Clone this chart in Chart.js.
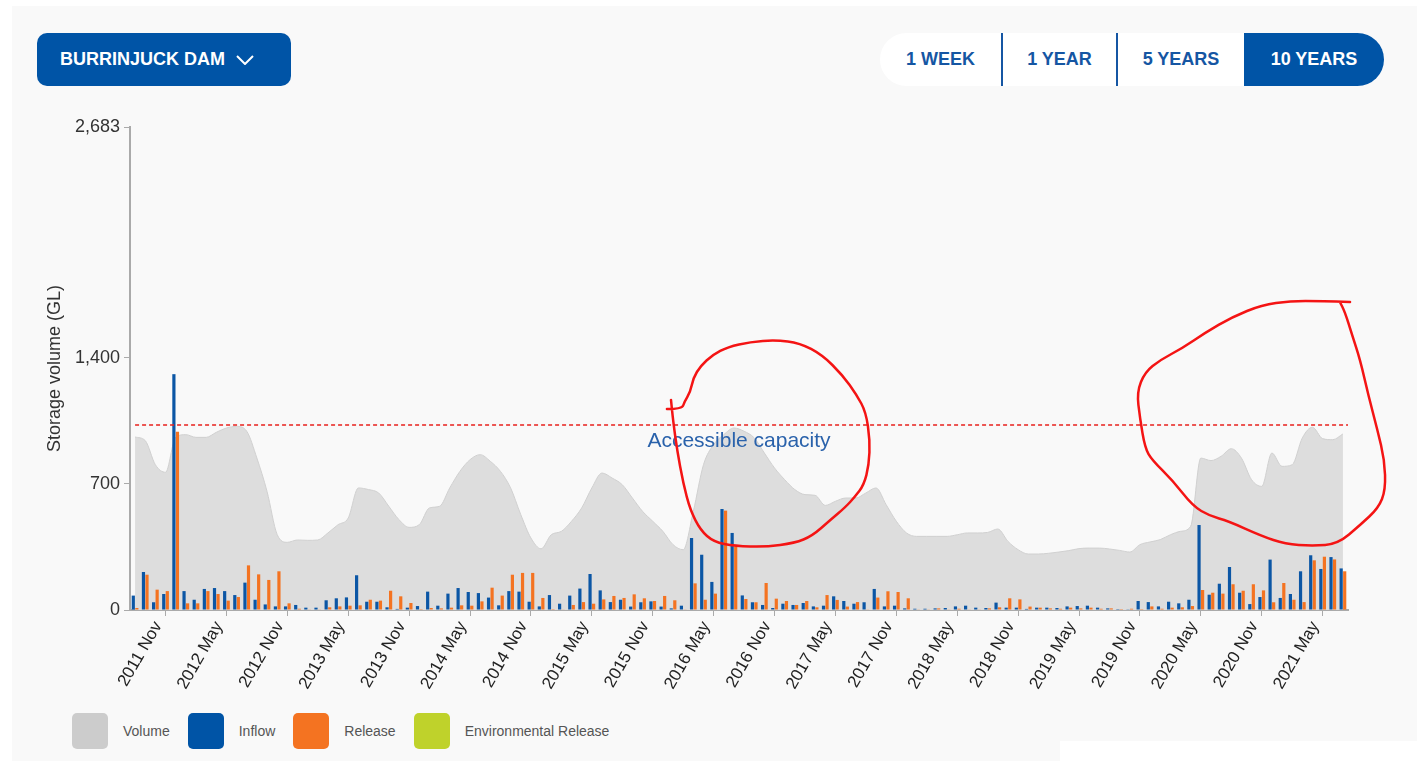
<!DOCTYPE html>
<html>
<head>
<meta charset="utf-8">
<title>Burrinjuck Dam - storage</title>
<script src="https://cdn.jsdelivr.net/npm/chart.js@4.4.1/dist/chart.umd.min.js"></script>
<style>
  html, body { margin: 0; padding: 0; background: #fff; }
  body { width: 1417px; height: 761px; position: relative; overflow: hidden; font-family: "Liberation Sans", Arial, sans-serif; }
  .panel { position: absolute; left: 12px; top: 6px; right: 0; bottom: 0; background: #f9f9f9; }
  .corner { position: absolute; left: 1060px; top: 741px; right: 0; bottom: 0; background: #fff; }
  .dam-btn { position: absolute; left: 37px; top: 33px; width: 254px; height: 53px; border-radius: 10px;
    background: #0054a6; color: #fff; font-weight: bold; font-size: 18px; display: flex; align-items: center;
    padding-left: 23px; box-sizing: border-box; }
  .dam-btn svg { margin-left: 11px; }
  .range { position: absolute; left: 880px; top: 33px; width: 504px; height: 53px; background: #fff;
    border-radius: 27px; overflow: hidden; display: flex; }
  .range div { height: 100%; display: flex; align-items: center; justify-content: center; color: #1556a3;
    font-weight: bold; font-size: 18px; box-sizing: border-box; }
  .range .sep { border-left: 2px solid #1556a3; }
  .range .on { background: #0054a6; color: #fff; }
  #chart { position: absolute; left: 30px; top: 110px; }
  .legend { position: absolute; left: 72px; top: 713px; display: flex; align-items: center; }
  .legend span.box { width: 36px; height: 36px; border-radius: 5px; display: inline-block; }
  .legend span.txt { font-size: 14px; color: #555; margin-left: 15px; margin-right: 18px; }
</style>
</head>
<body>
<div class="panel"></div>
<div class="corner"></div>

<div class="dam-btn">BURRINJUCK DAM
  <svg width="18" height="10" viewBox="0 0 18 10"><polyline points="1,1 9,9 17,1" fill="none" stroke="#fff" stroke-width="2"/></svg>
</div>

<div class="range">
  <div style="width:121px">1 WEEK</div>
  <div class="sep" style="width:115px">1 YEAR</div>
  <div class="sep" style="width:128px">5 YEARS</div>
  <div class="on" style="width:140px">10 YEARS</div>
</div>

<canvas id="chart" width="1380" height="600"></canvas>

<div class="legend">
  <span class="box" style="background:#cccccc"></span><span class="txt">Volume</span>
  <span class="box" style="background:#0054a6"></span><span class="txt">Inflow</span>
  <span class="box" style="background:#f47321"></span><span class="txt">Release</span>
  <span class="box" style="background:#bfd22b"></span><span class="txt">Environmental Release</span>
</div>

<script>
// monthly values, 2011 Nov .. 2021 Oct (GL)
const monthNames = ['Jan', 'Feb', 'Mar', 'Apr', 'May', 'Jun', 'Jul', 'Aug', 'Sep', 'Oct', 'Nov', 'Dec'];
const months = [];
for (let k = 0; k < 120; k++) {
  months.push((2011 + Math.floor((10 + k) / 12)) + ' ' + monthNames[(10 + k) % 12]);
}

const tickLabels = ['2011 Nov', '2012 May', '2012 Nov', '2013 May', '2013 Nov', '2014 May', '2014 Nov',
  '2015 May', '2015 Nov', '2016 May', '2016 Nov', '2017 May', '2017 Nov', '2018 May', '2018 Nov',
  '2019 May', '2019 Nov', '2020 May', '2020 Nov', '2021 May'];
const yTicks = [0, 700, 1400, 2683];
const accessibleCapacity = 1026;

const volume = [
  961, 941, 807, 765, 960, 974, 959, 959, 987, 1011,
  1020, 993, 844, 659, 419, 376, 389, 387, 389, 428,
  474, 511, 678, 669, 650, 576, 502, 459, 474, 567,
  576, 678, 770, 835, 863, 826, 770, 678, 530, 400,
  340, 418, 437, 493, 567, 678, 761, 733, 696, 622,
  548, 493, 437, 363, 335, 548, 807, 919, 974, 1011,
  993, 956, 872, 789, 724, 669, 641, 637, 581, 604,
  622, 622, 650, 678, 585, 493, 428, 409, 409, 409,
  409, 418, 428, 428, 431, 450, 381, 335, 311, 311,
  315, 322, 330, 341, 344, 344, 339, 331, 322, 363,
  378, 391, 418, 437, 465, 844, 830, 854, 896, 844,
  724, 687, 872, 798, 807, 956, 1015, 952, 946, 978
];

const inflow = [
  80, 211, 43, 89, 1310, 105, 57, 117, 122, 105,
  83, 152, 57, 31, 20, 20, 28, 13, 13, 54,
  65, 70, 193, 46, 46, 15, 6, 13, 22, 102,
  24, 91, 122, 100, 94, 69, 26, 105, 102, 46,
  20, 83, 35, 80, 119, 200, 109, 44, 57, 19,
  43, 48, 19, 9, 24, 400, 307, 156, 561, 428,
  81, 43, 28, 11, 35, 28, 39, 20, 24, 76,
  50, 35, 43, 117, 20, 24, 9, 7, 7, 9,
  11, 20, 24, 13, 11, 41, 13, 13, 6, 13,
  13, 11, 20, 22, 24, 13, 9, 5, 4, 50,
  44, 20, 46, 37, 57, 472, 85, 146, 239, 96,
  33, 72, 280, 67, 89, 215, 304, 228, 294, 231
];

const release = [
  11, 196, 113, 105, 990, 37, 37, 105, 89, 52,
  72, 248, 198, 167, 215, 37, 7, 2, 2, 15,
  20, 24, 26, 57, 52, 107, 76, 39, 5, 11,
  9, 13, 26, 24, 48, 124, 80, 196, 206, 206,
  67, 5, 2, 28, 44, 35, 59, 78, 67, 87,
  65, 50, 78, 54, 2, 148, 57, 91, 552, 352,
  61, 43, 150, 63, 50, 28, 50, 15, 83, 56,
  19, 44, 2, 69, 104, 100, 65, 2, 2, 9,
  2, 7, 2, 2, 9, 15, 65, 59, 19, 13,
  9, 7, 13, 9, 13, 7, 9, 5, 7, 5,
  20, 7, 13, 15, 22, 111, 96, 91, 143, 107,
  143, 109, 43, 150, 57, 44, 276, 296, 281, 215
];

const envRelease = [];

// hand drawn red rings on the screenshot, in [month index, GL]
const ringOne = [
  [52.4, 1116], [53.9, 1117], [54.1, 1155], [54.7, 1211], [55.0, 1289], [55.7, 1355], [56.9, 1417],
  [58.4, 1461], [60.6, 1489], [63.1, 1500], [65.5, 1483], [67.7, 1417], [69.7, 1305], [71.1, 1194],
  [72.0, 1100], [72.4, 944], [72.3, 805], [71.8, 694], [70.9, 628], [70.0, 572], [68.5, 500],
  [66.7, 411], [65.0, 372], [62.1, 350], [59.1, 356], [57.0, 378], [55.7, 444], [54.7, 555],
  [54.0, 705], [53.4, 889], [53.0, 1055], [52.8, 1167]
];
const ringTwo = [
  [119.7, 1711], [116.8, 1716], [113.8, 1716], [111.0, 1694], [108.1, 1628], [105.4, 1539],
  [103.2, 1455], [101.0, 1389], [99.5, 1322], [98.7, 1211], [99.0, 1067], [99.5, 900], [100.2, 833],
  [102.2, 722], [104.2, 578], [105.9, 522], [107.7, 494], [111.0, 411], [113.3, 367], [116.0, 356],
  [118.5, 367], [120.7, 472], [122.5, 567], [123.2, 667], [123.1, 833], [122.4, 1000], [121.5, 1194],
  [120.7, 1389], [119.9, 1528], [119.2, 1655], [118.7, 1711]
];

function strokeScribble(ctx, pts) {
  ctx.beginPath();
  ctx.moveTo(pts[0][0], pts[0][1]);
  for (let k = 1; k < pts.length - 1; k++) {
    const mx = (pts[k][0] + pts[k + 1][0]) / 2;
    const my = (pts[k][1] + pts[k + 1][1]) / 2;
    ctx.quadraticCurveTo(pts[k][0], pts[k][1], mx, my);
  }
  ctx.lineTo(pts[pts.length - 1][0], pts[pts.length - 1][1]);
  ctx.stroke();
}

const overlay = {
  id: 'overlay',
  afterDatasetsDraw(chart) {
    const {ctx, chartArea, scales: {x, y}} = chart;
    const yCap = Math.round(y.getPixelForValue(accessibleCapacity));
    ctx.save();
    ctx.strokeStyle = '#e8201c';
    ctx.lineWidth = 1.4;
    ctx.setLineDash([4, 3]);
    ctx.beginPath();
    ctx.moveTo(x.getPixelForValue(0), yCap);
    ctx.lineTo(chartArea.right, yCap);
    ctx.stroke();
    ctx.setLineDash([]);
    ctx.font = '21px "Liberation Sans", Arial, sans-serif';
    ctx.fillStyle = '#2a62ab';
    ctx.textAlign = 'center';
    ctx.textBaseline = 'middle';
    ctx.fillText('Accessible capacity', (chartArea.left + chartArea.right) / 2, yCap + 16);
    ctx.restore();
  },
  afterDraw(chart) {
    const {ctx, scales: {x, y}} = chart;
    ctx.save();
    ctx.strokeStyle = '#f41414';
    ctx.lineWidth = 2.5;
    ctx.lineJoin = 'round';
    ctx.lineCap = 'round';
    [ringOne, ringTwo].forEach(ring => {
      strokeScribble(ctx, ring.map(p => [x.getPixelForValue(p[0]), y.getPixelForValue(p[1])]));
    });
    ctx.restore();
  }
};

const ctx = document.getElementById('chart').getContext('2d');
new Chart(ctx, {
  data: {
    labels: months,
    datasets: [
      {
        type: 'bar',
        label: 'Inflow',
        data: inflow,
        backgroundColor: '#0b56a5',
        stack: 'in',
        order: 1
      },
      {
        type: 'bar',
        label: 'Release',
        data: release,
        backgroundColor: '#f47321',
        stack: 'out',
        order: 1
      },
      {
        type: 'bar',
        label: 'Environmental Release',
        data: envRelease,
        backgroundColor: '#bfd22b',
        stack: 'out',
        order: 1
      },
      {
        type: 'line',
        label: 'Volume',
        data: volume,
        borderColor: '#d0d0d0',
        borderWidth: 1,
        backgroundColor: '#dddddd',
        fill: 'origin',
        pointRadius: 0,
        cubicInterpolationMode: 'monotone',
        order: 2
      }
    ]
  },
  options: {
    responsive: false,
    animation: false,
    devicePixelRatio: 1,
    layout: { padding: { top: 17, right: 62, left: 0, bottom: 0 } },
    datasets: {
      bar: { categoryPercentage: 0.7, barPercentage: 0.9, borderWidth: 0 }
    },
    plugins: {
      legend: { display: false },
      tooltip: { enabled: false }
    },
    scales: {
      x: {
        stacked: true,
        afterFit: (s) => { s.height = 100; },
        grid: { drawOnChartArea: false, drawTicks: true, tickLength: 6, color: '#aaaaaa' },
        border: { color: '#aaaaaa', width: 2 },
        ticks: {
          autoSkip: false,
          minRotation: 60,
          maxRotation: 60,
          labelOffset: 23,
          padding: 2,
          color: '#222',
          font: { family: '"Liberation Sans", Arial, sans-serif', size: 17 },
          callback: function(value, index) {
            const lab = months[index];
            return tickLabels.includes(lab) ? lab : null;
          }
        }
      },
      y: {
        min: 0,
        max: 2683,
        afterFit: (s) => { s.width = 100; },
        afterBuildTicks: (s) => { s.ticks = yTicks.map(v => ({ value: v })); },
        grid: { drawOnChartArea: false, drawTicks: true, tickLength: 6, color: '#aaaaaa' },
        border: { color: '#aaaaaa', width: 2 },
        ticks: {
          padding: 4,
          color: '#333',
          font: { family: '"Liberation Sans", Arial, sans-serif', size: 18 },
          callback: (v) => Number(v).toLocaleString('en-US')
        },
        title: {
          display: true,
          text: 'Storage volume (GL)',
          color: '#333',
          padding: { top: 14, bottom: 0 },
          font: { family: '"Liberation Sans", Arial, sans-serif', size: 18 }
        }
      }
    }
  },
  plugins: [overlay]
});
</script>
</body>
</html>
